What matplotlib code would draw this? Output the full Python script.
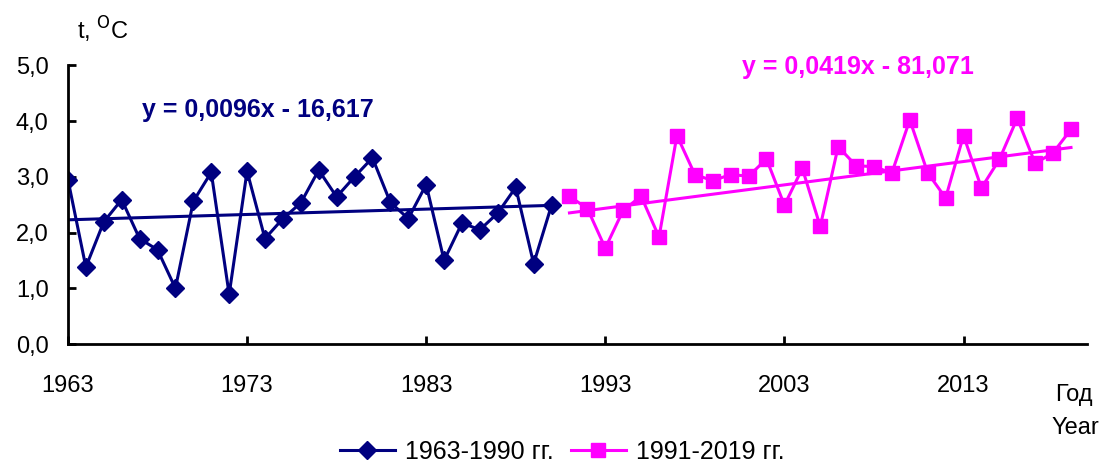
import numpy as np
import matplotlib
matplotlib.use("Agg")
import matplotlib.pyplot as plt
from matplotlib.ticker import FuncFormatter

plt.rcParams['font.family'] = ['Liberation Sans', 'DejaVu Sans']

# 1963-1990
years1 = list(range(1963, 1991))
temp1 = [2.95, 1.38, 2.19, 2.59, 1.89, 1.69, 1.00, 2.56, 3.08, 0.89,
         3.10, 1.89, 2.25, 2.53, 3.12, 2.64, 3.00, 3.34, 2.54, 2.25,
         2.86, 1.50, 2.17, 2.05, 2.35, 2.81, 1.44, 2.49]
# 1991-2019
years2 = list(range(1991, 2020))
temp2 = [2.65, 2.43, 1.72, 2.40, 2.65, 1.92, 3.74, 3.04, 2.93, 3.04,
         3.01, 3.32, 2.49, 3.15, 2.11, 3.54, 3.20, 3.18, 3.07, 4.02,
         3.07, 2.62, 3.74, 2.80, 3.31, 4.05, 3.24, 3.43, 3.85]

trend1 = (0.0096, -16.617)
trend2 = (0.0419, -81.071)
xticks = [1963, 1973, 1983, 1993, 2003, 2013]
navy = '#000080'
pink = '#FF00FF'

fig = plt.figure(figsize=(11.03, 4.63), dpi=100)
ax = fig.add_axes([0.0616, 0.257, 0.924, 0.602])

ax.plot(years1, temp1, color=navy, lw=2.2, marker='D', ms=9.5,
        label='1963-1990 гг.')
ax.plot(years2, temp2, color=pink, lw=2.2, marker='s', ms=10.5,
        label='1991-2019 гг.')

# trend lines
x1 = np.array([years1[0], years1[-1]])
ax.plot(x1, trend1[0] * x1 + trend1[1], color=navy, lw=2.2)
x2 = np.array([years2[0], years2[-1]])
ax.plot(x2, trend2[0] * x2 + trend2[1], color=pink, lw=2.2)

ax.set_xlim(1963, 2019.9)
ax.set_ylim(0, 5)
ax.set_xticks(xticks)
ax.set_yticks(np.arange(0, 5.1, 1.0))
ax.yaxis.set_major_formatter(FuncFormatter(lambda v, p: ('%.1f' % v).replace('.', ',')))

for s in ['top', 'right']:
    ax.spines[s].set_visible(False)
for s in ['left', 'bottom']:
    ax.spines[s].set_linewidth(2)
ax.tick_params(axis='both', direction='in', length=6, width=2, labelsize=17)
ax.tick_params(axis='x', pad=22)
ax.tick_params(axis='y', pad=14)

fig.text(77 / 1103, 1 - 30 / 463, r't, $^{\rm O}$C', fontsize=17, va='center')
fig.text(142 / 1103, 1 - 110 / 463, 'y = 0,0096x - 16,617', fontsize=18,
         fontweight='bold', color=navy, va='center')
fig.text(742 / 1103, 1 - 67 / 463, 'y = 0,0419x - 81,071', fontsize=18,
         fontweight='bold', color=pink, va='center')
fig.text(1055 / 1103, 1 - 395 / 463, 'Год', fontsize=17, va='center')
fig.text(1051 / 1103, 1 - 428 / 463, 'Year', fontsize=17, va='center')

fig.legend(loc='center', bbox_to_anchor=(562 / 1103, 1 - 452 / 463), ncol=2,
           frameon=False, fontsize=18, handlelength=2.2, columnspacing=0.7,
           handletextpad=0.4, borderpad=0)

fig.savefig('out.png', dpi=100)
